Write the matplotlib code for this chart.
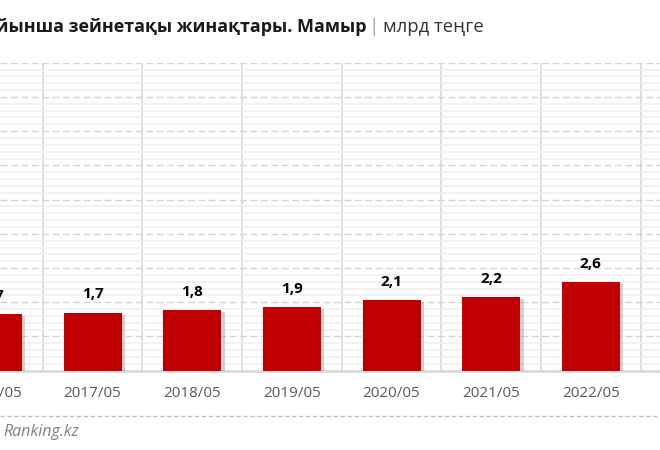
import matplotlib
matplotlib.use("Agg")
import matplotlib.pyplot as plt
import matplotlib.patheffects as pe
from matplotlib.lines import Line2D
from matplotlib.ticker import MultipleLocator, FixedLocator

plt.rcParams['font.family'] = ['Open Sans', 'DejaVu Sans']

# data (billion tenge, May of each year)
periods = ['2016/05', '2017/05', '2018/05', '2019/05', '2020/05', '2021/05', '2022/05']
values = [1.66, 1.70, 1.77, 1.86, 2.07, 2.16, 2.59]
title_bold = 'Қазақстандағы салымшылар бойынша зейнетақы жинақтары. Мамыр'
title_unit = 'млрд теңге'
source = 'Ranking.kz'

W, H = 660, 450
fig = plt.figure(figsize=(6.6, 4.5), dpi=100)
# axes is wider than the picture: the chart is cropped on both sides
ax = fig.add_axes([0, (H - 370.7) / H, 1, 308 / H])

x = list(range(len(periods)))
bars = ax.bar(x, values, width=0.582, color='#c00000', zorder=3)
for b in bars:
    b.set_path_effects([pe.SimplePatchShadow(offset=(2.5, -1.5), shadow_rgbFace='#808080', alpha=0.35),
                        pe.Normal()])

for xi, v, p in zip(x, values, periods):
    ax.annotate(f"{v:.1f}".replace('.', ','), (xi, v), xytext=(0, 8), textcoords='offset points',
                ha='center', va='bottom', fontsize=11, fontweight='bold', color='#000000',
                annotation_clip=False)
    # category labels drawn as annotations so the cropped first one still shows
    ax.annotate(p, (xi, 0), xytext=(0, -11), textcoords='offset points',
                ha='center', va='top', fontsize=11, color='#595959', annotation_clip=False)

ax.set_xticks(x)
ax.set_xticklabels([])
ax.xaxis.set_minor_locator(FixedLocator([i + 0.5 for i in range(-1, len(periods))]))
ax.tick_params(axis='x', which='both', length=0)
ax.tick_params(axis='y', which='both', length=0, labelleft=False)

# limits after the ticks, so they are not widened again
ax.set_xlim(0.0716, 6.694)
ax.set_ylim(0, 9)

ax.yaxis.set_major_locator(MultipleLocator(1))
ax.yaxis.set_minor_locator(MultipleLocator(0.2))
ax.yaxis.grid(True, which='minor', color='#efefef', linewidth=1.1, zorder=0)
ax.yaxis.grid(True, which='major', color='#d4d4d4', linewidth=1.0, linestyle=(0, (5, 2.5)), zorder=1)
ax.xaxis.grid(True, which='minor', color='#d9d9d9', linewidth=1.2, zorder=1)
ax.xaxis.grid(False, which='major')
ax.set_axisbelow(True)

for s in ['top', 'left', 'right']:
    ax.spines[s].set_visible(False)
ax.spines['bottom'].set_color('#d9d9d9')
ax.spines['bottom'].set_linewidth(2)

# title, cropped at the left edge
fig.text(366 / W, 1 - 27 / H, title_bold, ha='right', va='center', fontsize=13, fontweight='bold', color='#1a1a1a')
fig.text(374 / W, 1 - 27 / H, '|', ha='center', va='center', fontsize=14, color='#a6a6a6')
fig.text(383 / W, 1 - 27 / H, title_unit, ha='left', va='center', fontsize=13.3, color='#333333')

# footer
fig.add_artist(Line2D([0, 1], [1 - 415.7 / H] * 2, transform=fig.transFigure, color='#bfbfbf',
                      linewidth=1, linestyle=(0, (3, 2))))
fig.text(3 / W, 1 - 432 / H, source, ha='left', va='center', fontsize=11.5, style='italic', color='#808080')

fig.savefig('out.png', dpi=100)
